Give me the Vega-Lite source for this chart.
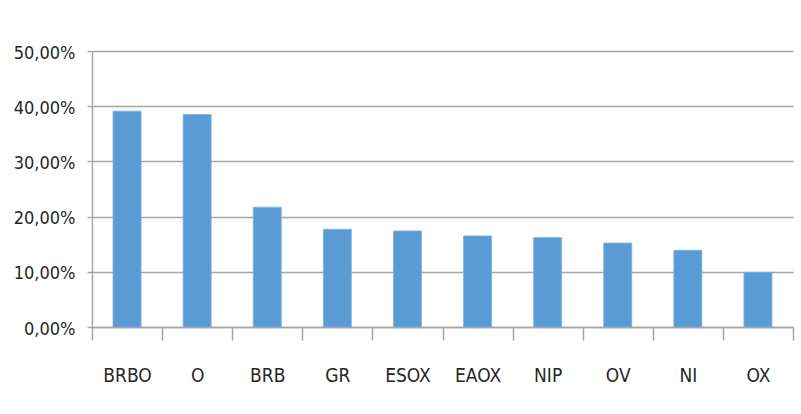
{
  "$schema": "https://vega.github.io/schema/vega-lite/v6.json",
  "width": 701,
  "height": 276,
  "autosize": {"type": "none"},
  "padding": {"left": 92, "top": 51, "right": 8, "bottom": 87},
  "background": "white",
  "config": {
    "view": {"stroke": null},
    "font": "DejaVu Sans Condensed"
  },
  "data": {
    "values": [
      {"cat": "BRBO", "value": 0.391},
      {"cat": "O", "value": 0.385},
      {"cat": "BRB", "value": 0.217},
      {"cat": "GR", "value": 0.177},
      {"cat": "ESOX", "value": 0.174},
      {"cat": "EAOX", "value": 0.165},
      {"cat": "NIP", "value": 0.162},
      {"cat": "OV", "value": 0.152},
      {"cat": "NI", "value": 0.139},
      {"cat": "OX", "value": 0.099}
    ]
  },
  "mark": {"type": "bar", "color": "#5b9bd5", "stroke": "#7fb2e0", "strokeWidth": 0.8, "width": {"band": 0.4}},
  "encoding": {
    "x": {
      "field": "cat",
      "type": "nominal",
      "sort": null,
      "scale": {"paddingInner": 0, "paddingOuter": 0},
      "axis": {
        "title": null,
        "labelAngle": 0,
        "labelFont": "DejaVu Sans Condensed",
        "labelFontSize": 19,
        "labelColor": "#262626",
        "labelPadding": 26,
        "tickBand": "extent",
        "tickSize": 13,
        "tickColor": "#a6a6a6",
        "tickWidth": 1.5,
        "domainColor": "#a6a6a6",
        "domainWidth": 1.5,
        "grid": false
      }
    },
    "y": {
      "field": "value",
      "type": "quantitative",
      "scale": {"domain": [0, 0.5], "nice": false},
      "axis": {
        "title": null,
        "values": [0, 0.1, 0.2, 0.3, 0.4, 0.5],
        "labelExpr": "replace(format(datum.value, '.2%'), '.', ',')",
        "labelFont": "DejaVu Sans Condensed",
        "labelFontSize": 18,
        "labelColor": "#262626",
        "labelPadding": 12,
        "labelOffset": 2,
        "tickSize": 5,
        "tickColor": "#a6a6a6",
        "tickWidth": 1.5,
        "domainColor": "#a6a6a6",
        "domainWidth": 1.5,
        "grid": true,
        "gridColor": "#a6a6a6",
        "gridWidth": 1.5
      }
    }
  }
}
